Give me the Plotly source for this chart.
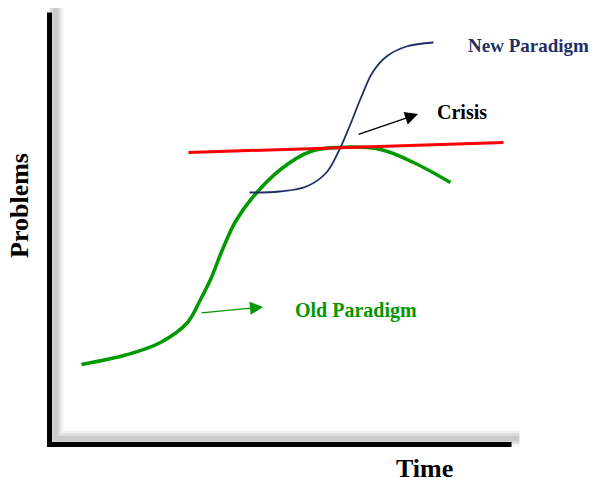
import plotly.graph_objects as go

# curves in (time, problems) units; origin sits on the axis corner
old_time = [32, 78, 111, 138, 151, 161, 173, 186, 203, 231, 261, 288, 331, 364, 401]
old_problems = [80, 90, 102, 122, 145, 165, 195, 223, 247, 275, 293, 297, 295, 282, 262]

new_time = [200, 230, 257, 277, 290, 300, 312, 323, 337, 357, 384]
new_problems = [252, 253, 258, 272, 295, 318, 348, 372, 388, 398, 402]

crisis_time = [139, 454]
crisis_problems = [292, 302]

# annotation arrows: (tail, head)
crisis_arrow = [(307.5, 309.5), (368.5, 330.5)]
old_arrow = [(150.5, 131.5), (213.5, 137.5)]

axis_top = 432
axis_right = 462

GREEN = "#009900"
NAVY = "#1f2f66"
FONT = "Liberation Serif"

fig = go.Figure()

fig.add_trace(go.Scatter(x=old_time, y=old_problems, mode="lines",
                         line=dict(color=GREEN, width=3.5, shape="spline", smoothing=1.0)))
fig.add_trace(go.Scatter(x=new_time, y=new_problems, mode="lines",
                         line=dict(color=NAVY, width=1.8, shape="spline", smoothing=1.0)))
fig.add_trace(go.Scatter(x=crisis_time, y=crisis_problems, mode="lines",
                         line=dict(color="#ff0000", width=3)))

# drop shadow behind the axes
shadow = f"M 6,{axis_top + 6} L 6,6 L {axis_right + 8},6"
for w, a in [(16, 0.05), (11, 0.07), (6, 0.09)]:
    fig.add_shape(type="path", path=shadow, xref="x", yref="y",
                  line=dict(color=f"rgba(0,0,0,{a})", width=w), layer="below")
fig.add_shape(type="path", path=f"M 0,{axis_top} L 0,0 L {axis_right},0",
              xref="x", yref="y", line=dict(color="black", width=5))

for (tx, ty), (hx, hy), col in [(crisis_arrow[0], crisis_arrow[1], "black"),
                                 (old_arrow[0], old_arrow[1], GREEN)]:
    fig.add_annotation(x=hx, y=hy, ax=tx, ay=ty, xref="x", yref="y", axref="x", ayref="y",
                       text="", showarrow=True, arrowhead=2, arrowsize=2,
                       arrowwidth=1.3, arrowcolor=col)

labels = [
    ("New Paradigm", 479, 399.5, NAVY, 19, 0),
    ("Crisis", 412.5, 332.5, "black", 20, 0),
    ("Old Paradigm", 306, 134.5, GREEN, 20, 0),
    ("Time", 374.5, -23.5, "black", 26, 0),
    ("Problems", -30.5, 238.5, "black", 26, -90),
]
for text, x, y, col, size, ang in labels:
    fig.add_annotation(x=x, y=y, xref="x", yref="y", text=f"<b>{text}</b>",
                       showarrow=False, textangle=ang,
                       font=dict(family=FONT, size=size, color=col))

# the page body adds an 8px offset, so the ranges are shifted to compensate
fig.update_layout(
    width=599, height=481,
    margin=dict(l=0, r=0, t=0, b=0),
    paper_bgcolor="white", plot_bgcolor="white",
    showlegend=False,
    xaxis=dict(range=[-41.5, 557.5], visible=False),
    yaxis=dict(range=[-44.5, 436.5], visible=False),
)

fig.write_html("out.html")
